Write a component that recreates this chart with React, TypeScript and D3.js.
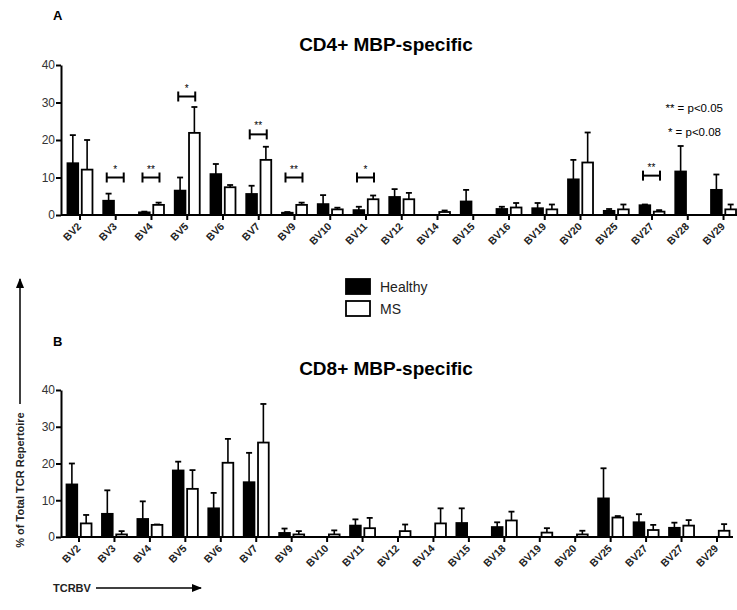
import { useEffect, useRef } from "react";
import * as d3 from "d3";

// CD4+ panel (A)
const catsA = ["BV2", "BV3", "BV4", "BV5", "BV6", "BV7", "BV9", "BV10", "BV11", "BV12", "BV14", "BV15", "BV16", "BV19", "BV20", "BV25", "BV27", "BV28", "BV29"];
const healthyA = [13.8, 3.8, 0.7, 6.5, 10.9, 5.6, 0.6, 2.9, 1.3, 4.8, null, 3.6, 1.6, 1.8, 9.5, 1.1, 2.6, 11.6, 6.7];
const healthyErrA = [21.3, 5.7, 0.9, 10, 13.6, 7.8, 0.8, 5.3, 2.2, 6.9, null, 6.7, 2.2, 3.2, 14.7, 1.6, 2.8, 18.4, 10.8];
const msA = [12.1, null, 2.7, 21.9, 7.4, 14.7, 2.7, 1.5, 4.2, 4.2, 0.8, null, 2.0, 1.5, 14.0, 1.5, 0.9, null, 1.5];
const msErrA = [20, null, 3.3, 28.8, 8.0, 18.2, 3.3, 1.95, 5.2, 5.9, 1.2, null, 3.2, 2.8, 22.0, 2.8, 1.3, null, 2.8];
const bracketsA = [
  { i: 1, level: 10, label: "*" },
  { i: 2, level: 10, label: "**" },
  { i: 3, level: 31.6, label: "*" },
  { i: 5, level: 21.5, label: "**" },
  { i: 6, level: 10, label: "**" },
  { i: 8, level: 10, label: "*" },
  { i: 16, level: 10.5, label: "**" },
];

// CD8+ panel (B)
const catsB = ["BV2", "BV3", "BV4", "BV5", "BV6", "BV7", "BV9", "BV10", "BV11", "BV12", "BV14", "BV15", "BV18", "BV19", "BV20", "BV25", "BV27", "BV27", "BV29"];
const healthyB = [14.3, 6.3, 4.9, 18.1, 7.8, 14.9, 1.1, null, 3.1, null, null, 3.8, 2.7, null, null, 10.5, 4.0, 2.5, null];
const healthyErrB = [20.0, 12.7, 9.7, 20.5, 12.0, 22.9, 2.3, null, 4.8, null, null, 7.8, 4.0, null, null, 18.7, 6.2, 3.9, null];
const msB = [3.7, 0.7, 3.3, 13.1, 20.2, 25.7, 0.7, 0.7, 2.4, 1.6, 3.7, null, 4.5, 1.2, 0.7, 5.3, 1.9, 3.1, 1.7];
const msErrB = [6.0, 1.6, 3.4, 18.2, 26.7, 36.2, 1.6, 1.8, 5.2, 3.4, 7.8, null, 6.9, 2.4, 1.7, 5.7, 3.3, 4.6, 3.5];

const yTicks = [0, 10, 20, 30, 40];
const groups = ["Healthy", "MS"];
const font = "'Liberation Sans', Arial, Helvetica, sans-serif";

type Panel = {
  cats: string[];
  healthy: (number | null)[];
  healthyErr: (number | null)[];
  ms: (number | null)[];
  msErr: (number | null)[];
  xRange: [number, number];
  axisEnd: number;
  yRange: [number, number];
  title: string;
  titleY: number;
  letter: string;
  letterY: number;
};

function drawPanel(svg: d3.Selection<SVGSVGElement, unknown, null, undefined>, p: Panel, brackets: typeof bracketsA) {
  const g = svg.append("g");
  const x = d3
    .scaleBand<number>()
    .domain(p.cats.map((_, i) => i))
    .range(p.xRange);
  const sub = d3.scaleBand<string>().domain(groups).range([-12.5, 12.5]).paddingInner(0.25);
  const y = d3.scaleLinear().domain([0, 40]).range(p.yRange);
  const cx = (i: number) => (x(i) ?? 0) + x.bandwidth() / 2;

  // Title + panel letter
  g.append("text")
    .attr("x", 386)
    .attr("y", p.titleY)
    .attr("text-anchor", "middle")
    .style("font-family", font)
    .style("font-weight", "bold")
    .style("font-size", "19px")
    .text(p.title);
  g.append("text")
    .attr("x", 53)
    .attr("y", p.letterY)
    .style("font-family", font)
    .style("font-weight", "bold")
    .style("font-size", "13px")
    .text(p.letter);

  // Y axis
  const yAxis = g
    .append("g")
    .attr("transform", `translate(61,0)`)
    .call(d3.axisLeft(y).tickValues(yTicks).tickSize(5).tickSizeOuter(0));
  yAxis.select(".domain").attr("stroke-width", 2);
  yAxis.selectAll(".tick line").attr("stroke-width", 2);
  yAxis
    .selectAll("text")
    .style("font-family", font)
    .style("font-size", "12px")
    .attr("fill", "#333")
    .attr("x", -6);

  // Bars
  const series = [
    { key: "Healthy", vals: p.healthy, errs: p.healthyErr, fill: "#000" },
    { key: "MS", vals: p.ms, errs: p.msErr, fill: "#fff" },
  ];
  series.forEach((s) => {
    const idx = s.vals.map((v, i) => i).filter((i) => s.vals[i] != null);
    const mid = (i: number) => cx(i) + (sub(s.key) ?? 0) + sub.bandwidth() / 2;
    // error bars
    g.selectAll(null)
      .data(idx)
      .enter()
      .append("line")
      .attr("x1", mid)
      .attr("x2", mid)
      .attr("y1", (i) => y(s.vals[i] as number))
      .attr("y2", (i) => y(s.errs[i] as number))
      .attr("stroke", "#000")
      .attr("stroke-width", 1.6);
    g.selectAll(null)
      .data(idx)
      .enter()
      .append("line")
      .attr("x1", (i) => mid(i) - 3)
      .attr("x2", (i) => mid(i) + 3)
      .attr("y1", (i) => y(s.errs[i] as number))
      .attr("y2", (i) => y(s.errs[i] as number))
      .attr("stroke", "#000")
      .attr("stroke-width", 1.8);
    g.selectAll(null)
      .data(idx)
      .enter()
      .append("rect")
      .attr("x", (i) => cx(i) + (sub(s.key) ?? 0))
      .attr("width", sub.bandwidth())
      .attr("y", (i) => y(s.vals[i] as number))
      .attr("height", (i) => y(0) - y(s.vals[i] as number))
      .attr("fill", s.fill)
      .attr("stroke", "#000")
      .attr("stroke-width", 1.8);
  });

  // X axis
  const xAxis = g
    .append("g")
    .attr("transform", `translate(0,${y(0)})`)
    .call(
      d3
        .axisBottom(x)
        .tickSize(5)
        .tickSizeOuter(0)
        .tickFormat((i) => p.cats[i as number])
    );
  xAxis.select(".domain").attr("d", `M61,0H${p.axisEnd}`).attr("stroke-width", 2);
  xAxis.selectAll(".tick line").attr("stroke-width", 2);
  xAxis
    .selectAll("text")
    .style("font-family", font)
    .style("font-weight", "bold")
    .style("font-size", "10.5px")
    .attr("fill", "#222")
    .attr("text-anchor", "end")
    .attr("dy", null)
    .attr("y", 0)
    .attr("transform", "translate(2,12) rotate(-45)");

  // significance brackets
  brackets.forEach((b) => {
    const x1 = cx(b.i) - 9;
    const x2 = cx(b.i) + 8;
    const by = y(b.level);
    g.append("line").attr("x1", x1).attr("x2", x2).attr("y1", by).attr("y2", by).attr("stroke", "#000").attr("stroke-width", 2);
    [x1, x2].forEach((bx) =>
      g.append("line").attr("x1", bx).attr("x2", bx).attr("y1", by - 5).attr("y2", by + 5).attr("stroke", "#000").attr("stroke-width", 2)
    );
    g.append("text")
      .attr("x", (x1 + x2) / 2)
      .attr("y", by - 5)
      .attr("text-anchor", "middle")
      .attr("fill", "#000")
      .style("font-family", font)
      .style("font-size", "10px")
      .text(b.label);
  });
}

export default function App() {
  const svgRef = useRef<SVGSVGElement>(null);

  useEffect(() => {
    const svg = d3.select(svgRef.current as SVGSVGElement);
    svg.selectAll("*").remove();

    svg.append("defs")
      .append("marker")
      .attr("id", "arrow")
      .attr("viewBox", "0 0 10 10")
      .attr("refX", 9)
      .attr("refY", 5)
      .attr("markerWidth", 7)
      .attr("markerHeight", 7)
      .attr("orient", "auto")
      .append("path")
      .attr("d", "M0,1L10,5L0,9Z")
      .attr("fill", "#000");

    drawPanel(
      svg,
      {
        cats: catsA,
        healthy: healthyA,
        healthyErr: healthyErrA,
        ms: msA,
        msErr: msErrA,
        xRange: [62.1, 741.4],
        axisEnd: 737,
        yRange: [215, 65],
        title: "CD4+ MBP-specific",
        titleY: 51,
        letter: "A",
        letterY: 20,
      },
      bracketsA
    );

    drawPanel(
      svg,
      {
        cats: catsB,
        healthy: healthyB,
        healthyErr: healthyErrB,
        ms: msB,
        msErr: msErrB,
        xRange: [61.3, 734.7],
        axisEnd: 733,
        yRange: [537, 390],
        title: "CD8+ MBP-specific",
        titleY: 375,
        letter: "B",
        letterY: 346,
      },
      []
    );

    // p-value key
    const key = svg.append("g").style("font-family", font).style("font-size", "11.5px").attr("text-anchor", "end");
    key.append("text").attr("x", 723).attr("y", 112).text("** = p<0.05");
    key.append("text").attr("x", 721).attr("y", 136).text("* = p<0.08");

    // legend
    const legend = svg.append("g").style("font-family", font).style("font-size", "14px");
    groups.forEach((name, i) => {
      legend
        .append("rect")
        .attr("x", 346)
        .attr("y", 279 + i * 22)
        .attr("width", 24)
        .attr("height", 15)
        .attr("fill", i === 0 ? "#000" : "#fff")
        .attr("stroke", "#000")
        .attr("stroke-width", 1.8);
      legend
        .append("text")
        .attr("x", 380)
        .attr("y", 292 + i * 22)
        .attr("fill", "#222")
        .text(name);
    });

    // y label with arrow
    svg.append("text")
      .attr("transform", "translate(24,480) rotate(-90)")
      .attr("text-anchor", "middle")
      .style("font-family", font)
      .style("font-weight", "bold")
      .style("font-size", "11px")
      .attr("fill", "#222")
      .text("% of Total TCR Repertoire");
    svg.append("line")
      .attr("x1", 20)
      .attr("x2", 20)
      .attr("y1", 404)
      .attr("y2", 279)
      .attr("stroke", "#000")
      .attr("stroke-width", 1.5)
      .attr("marker-end", "url(#arrow)");

    // x label with arrow
    svg.append("text")
      .attr("x", 53)
      .attr("y", 592)
      .style("font-family", font)
      .style("font-weight", "bold")
      .style("font-size", "11px")
      .attr("fill", "#222")
      .text("TCRBV");
    svg.append("line")
      .attr("x1", 96)
      .attr("x2", 201)
      .attr("y1", 588)
      .attr("y2", 588)
      .attr("stroke", "#000")
      .attr("stroke-width", 1.5)
      .attr("marker-end", "url(#arrow)");
  }, []);

  return (
    <svg
      ref={svgRef}
      width={737}
      height={610}
      style={{ position: "absolute", left: 0, top: 0, background: "#fff" }}
    ></svg>
  );
}
